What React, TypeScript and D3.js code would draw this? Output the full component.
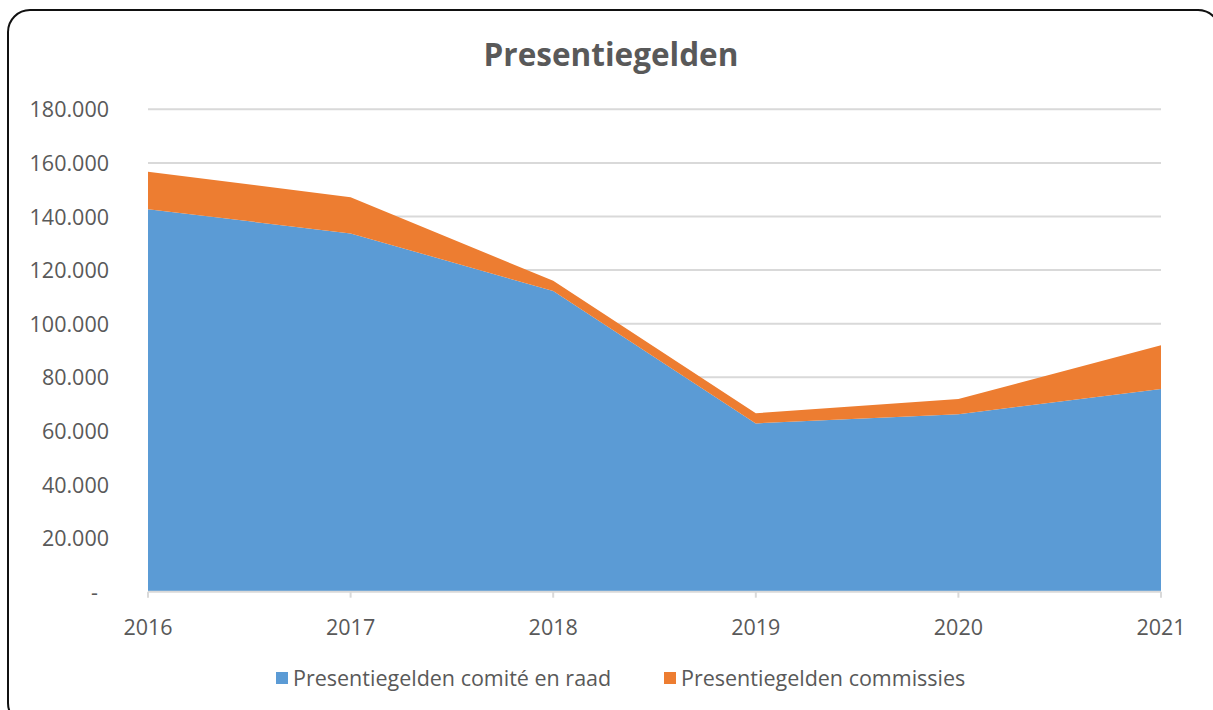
import React from "react";
import * as d3 from "d3";

const years = ["2016", "2017", "2018", "2019", "2020", "2021"];
const comiteEnRaad = [142700, 133700, 112200, 62800, 66200, 75600];
const commissies = [14000, 13500, 3800, 3800, 5700, 16400];
const seriesNames = ["Presentiegelden comité en raad", "Presentiegelden commissies"];
const seriesColors = ["#5b9bd5", "#ed7d31"];
const yTicks = [0, 20000, 40000, 60000, 80000, 100000, 120000, 140000, 160000, 180000];

const W = 1213;
const H = 710;
const left = 148;
const right = 1161;
const top = 109.3;
const bottom = 591.7;

export default function App() {
  const x = d3.scalePoint<string>().domain(years).range([left, right]);
  const y = d3.scaleLinear().domain([0, 180000]).range([bottom, top]);
  const rows = years.map((yr, i) => ({ year: yr, a: comiteEnRaad[i], b: commissies[i] }));
  const stack = d3.stack<any>().keys(["a", "b"])(rows);
  const area = d3
    .area<any>()
    .x((d) => x(d.data.year) as number)
    .y0((d) => y(d[0]))
    .y1((d) => y(d[1]));
  const fmt = (v: number) => (v === 0 ? "-" : d3.format(",")(v).replace(/,/g, "."));
  const font = "'Open Sans', sans-serif";
  const fs = 21.5;
  return (
    <svg width={W} height={H} style={{ position: "absolute", left: 0, top: 0 }}>
      <rect x={0} y={0} width={W} height={H} fill="#fff" />
      <rect x={8} y={10} width={1212} height={715} rx={22} ry={22} fill="#fff" stroke="#111" strokeWidth={2} />
      <text x={611} y={66} textAnchor="middle" fontFamily={font} fontWeight={700} fontSize={31.5} fill="#595959">
        Presentiegelden
      </text>
      {yTicks.map((t) =>
        t === 0 ? null : (
          <line key={t} x1={left} x2={right} y1={y(t)} y2={y(t)} stroke="#d9d9d9" strokeWidth={2} />
        )
      )}
      {stack.map((s, i) => (
        <path key={i} d={area(s as any) || ""} fill={seriesColors[i]} />
      ))}
      <line x1={left} x2={right} y1={bottom} y2={bottom} stroke="#d9d9d9" strokeWidth={2} />
      {years.map((yr) => (
        <line key={yr} x1={x(yr)} x2={x(yr)} y1={bottom} y2={bottom + 6} stroke="#d9d9d9" strokeWidth={2} />
      ))}
      {yTicks.map((t) => (
        <text
          key={t}
          x={t === 0 ? 98 : 109}
          y={y(t) + 8}
          textAnchor="end"
          fontFamily={font}
          fontSize={fs}
          fill="#595959"
        >
          {fmt(t)}
        </text>
      ))}
      {years.map((yr) => (
        <text key={yr} x={x(yr)} y={635} textAnchor="middle" fontFamily={font} fontSize={fs} fill="#595959">
          {yr}
        </text>
      ))}
      {seriesNames.map((n, i) => {
        const lx = i === 0 ? 276 : 664;
        return (
          <g key={n}>
            <rect x={lx} y={672} width={12} height={12} fill={seriesColors[i]} />
            <text x={lx + 17} y={686} fontFamily={font} fontSize={fs} fill="#595959">
              {n}
            </text>
          </g>
        );
      })}
    </svg>
  );
}
